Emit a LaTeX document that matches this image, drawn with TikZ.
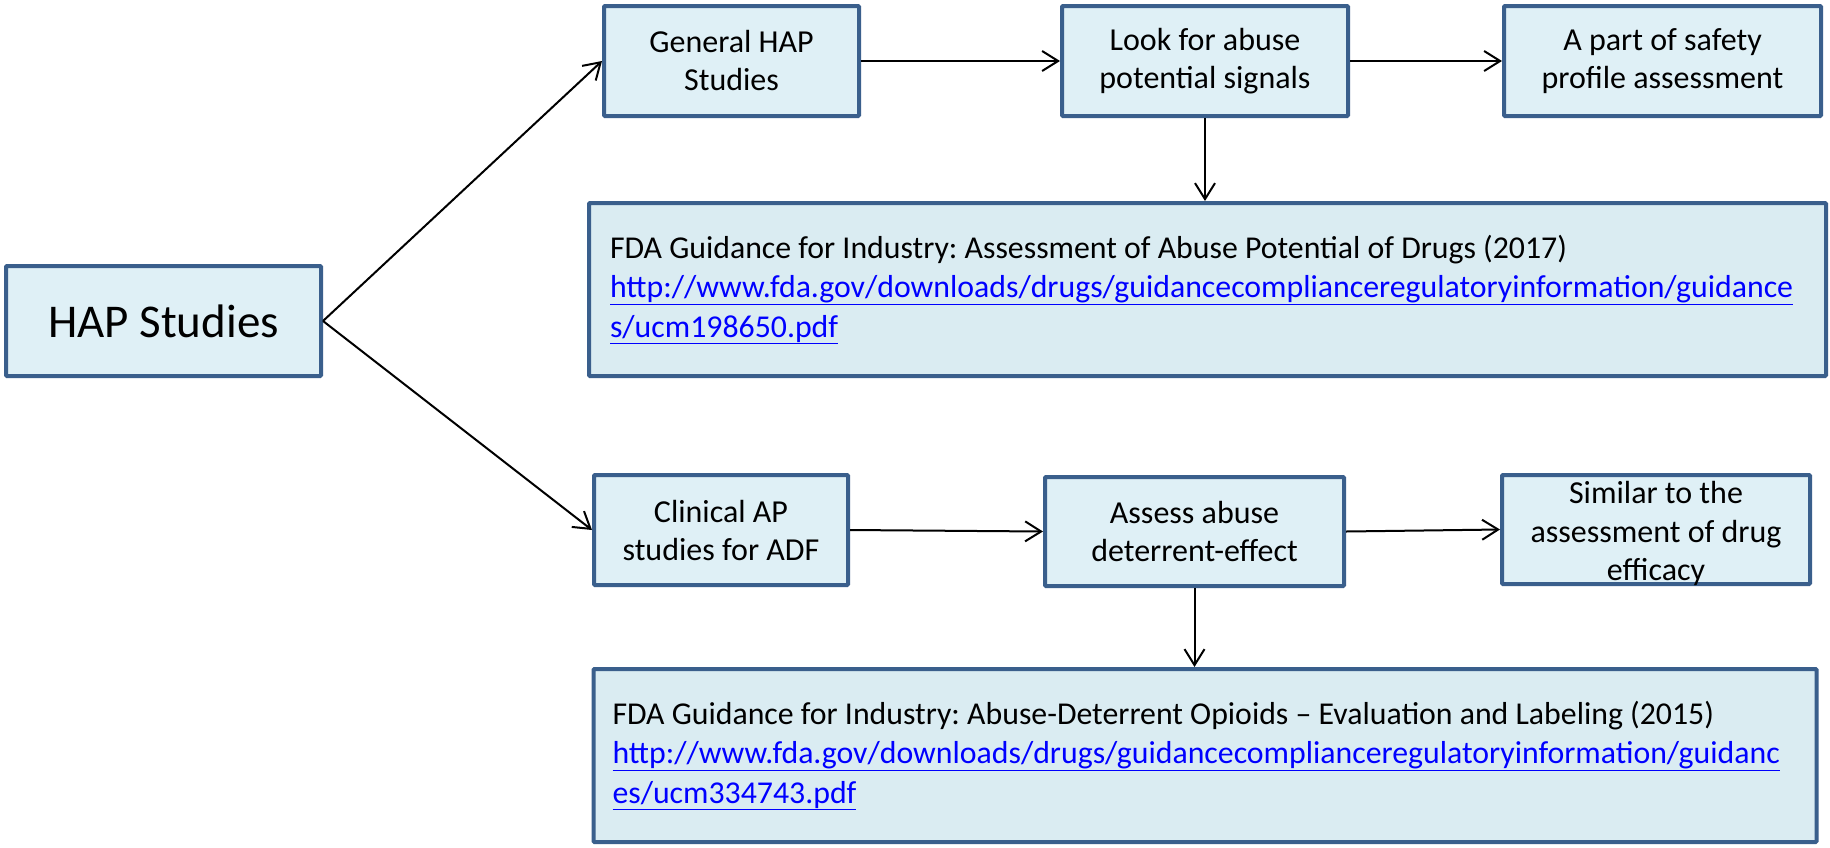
\documentclass[tikz,border=0pt]{standalone}
\usepackage{fontspec}
\setmainfont{Carlito}
\usetikzlibrary{arrows.meta}
\definecolor{boxborder}{HTML}{3A5F8C}
\definecolor{boxfill}{HTML}{DFF0F6}
\definecolor{reffill}{HTML}{DAECF2}
\definecolor{linkblue}{HTML}{0000FF}
\tikzset{
  x=1pt, y=-1pt,
  box/.style={draw=boxborder, fill=boxfill, line width=4pt, rounded corners=1pt,
    align=center, inner sep=2pt, font=\fontsize{32}{38}\selectfont},
  boxtext/.style={align=center, inner sep=0pt, font=\fontsize{32}{38.5}\selectfont},
  refbox/.style={draw=boxborder, fill=reffill, line width=4pt, rounded corners=1pt,
    align=flush left, inner ysep=2pt, font=\frenchspacing\fontsize{31.8}{39.5}\selectfont},
  conn/.style={line width=2pt, -{Straight Barb[length=16pt,width=20pt]}}
}
\newcommand{\lnk}[1]{\textcolor{linkblue}{\underline{#1}}}
\begin{document}
\begin{tikzpicture}
\fill[white] (0,0) rectangle (1830,847);
\useasboundingbox (0,0) rectangle (1830,847);

\node[box, minimum width=315pt, minimum height=110pt, font=\fontsize{47}{56}\selectfont] (hap) at (163.5,321) {HAP Studies};

\node[box, minimum width=255pt, minimum height=110pt] (gen) at (731.5,61) {General HAP\\Studies};
\node[box, minimum width=286pt, minimum height=110pt] (look) at (1205,61) {Look for abuse\\potential signals};
\node[box, minimum width=317pt, minimum height=110pt] (part) at (1662.5,61) {A part of safety\\profile assessment};

\node[refbox, minimum height=173pt, inner xsep=21pt, text width=1195pt] (fda1) at (1207.5,289.5)
 {FDA Guidance for Industry: Assessment of Abuse Potential of Drugs (2017)\\
  \lnk{http://www.fda.gov/downloads/drugs/guidancecomplianceregulatoryinformation/guidance}\\
  \lnk{s/ucm198650.pdf}};

\node[box, minimum width=254pt, minimum height=110pt] (clin) at (721,530) {Clinical AP\\studies for ADF};
\node[box, minimum width=299pt, minimum height=109pt] (assess) at (1194.5,531.5) {Assess abuse\\deterrent-effect};
\node[box, minimum width=308pt, minimum height=109pt] (sim) at (1656,529.5) {};
\node[boxtext] (simtext) at ([yshift=-4pt]sim.center) {Similar to the\\assessment of drug\\efficacy};

\node[refbox, minimum height=173pt, inner xsep=19pt, text width=1185pt] (fda2) at (1205,755.5)
 {FDA Guidance for Industry: Abuse-Deterrent Opioids -- Evaluation and Labeling (2015)\\
  \lnk{http://www.fda.gov/downloads/drugs/guidancecomplianceregulatoryinformation/guidanc}\\
  \lnk{es/ucm334743.pdf}};

\draw[conn] (hap.east) -- (gen.west);
\draw[conn] (hap.east) -- (clin.west);
\draw[conn] (gen.east) -- (look.west);
\draw[conn] (look.east) -- (part.west);
\draw[conn] (look.south) -- (look.south |- fda1.north);
\draw[conn] (clin.east) -- (assess.west);
\draw[conn] (assess.east) -- (sim.west);
\draw[conn] (assess.south) -- (assess.south |- fda2.north);
\end{tikzpicture}
\end{document}
